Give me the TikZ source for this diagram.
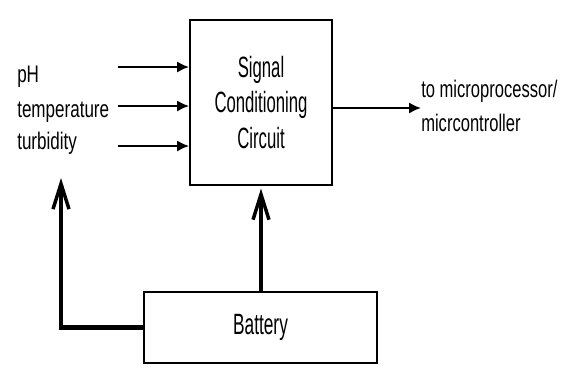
\documentclass[tikz,border=0pt]{standalone}
\usepackage{fontspec}
\setmainfont{Liberation Sans}
\usepackage{graphicx}
\usepackage{tikz}
\usetikzlibrary{arrows.meta,calc,positioning}
\newcommand{\squeezetext}[2][0.6]{\scalebox{#1}[1]{#2}}

\begin{document}
\begin{tikzpicture}[x=0.75pt, y=-0.75pt,
  block/.style={draw=black, line width=1.4pt, fill=white, align=center, inner sep=0pt},
  lbl/.style={inner sep=0pt, font=\fontsize{18pt}{25pt}\selectfont},
  boxtxt/.style={font=\fontsize{22pt}{26.5pt}\selectfont},
  sig/.style={-{Latex[length=9pt,width=8.5pt]}, line width=1.6pt},
  pwr/.style={-{Straight Barb[length=19pt,width=12pt,line width=2.6pt]}, line width=3pt}]

  \useasboundingbox (0,0) rectangle (579,369);

  % main block
  \node[block, boxtxt, minimum width=106.5pt, minimum height=123.75pt] (scc) at (261,102.5)
     {\squeezetext[0.57]{Signal}\\\squeezetext[0.57]{Conditioning}\\\squeezetext[0.57]{Circuit}};

  % supply
  \node[block, boxtxt, minimum width=174.75pt, minimum height=53.25pt] (bat) at (260.5,327.5)
     {\squeezetext[0.59]{Battery}};

  % sensor labels
  \node[lbl, anchor=base west] (ph) at (17,82) {\squeezetext[0.71]{pH}};
  \node[lbl, anchor=base west] (temp) at (17,117) {\squeezetext[0.71]{temperature}};
  \node[lbl, anchor=base west] (turb) at (17,149) {\squeezetext[0.71]{turbidity}};

  % output label
  \node[lbl, anchor=west, align=left] (out) at (421,106)
     {\squeezetext[0.69]{to microprocessor/}\\\squeezetext[0.69]{micrcontroller}};

  \coordinate (in1) at (118,67);
  \coordinate (in2) at (118,106);
  \coordinate (in3) at (118,146);
  \coordinate (pwrleft) at (61,178);

  \draw[sig] (in1) -- (in1 -| scc.west);
  \draw[sig] (in2) -- (in2 -| scc.west);
  \draw[sig] (in3) -- (in3 -| scc.west);
  \draw[sig] (scc.east |- 0,108) -- (out.west |- 0,108);

  \draw[pwr] (bat.north -| scc) -- ([yshift=-2pt]scc.south);
  \draw[pwr, line width=3.6pt] (bat.west) -| (pwrleft);
\end{tikzpicture}
\end{document}
